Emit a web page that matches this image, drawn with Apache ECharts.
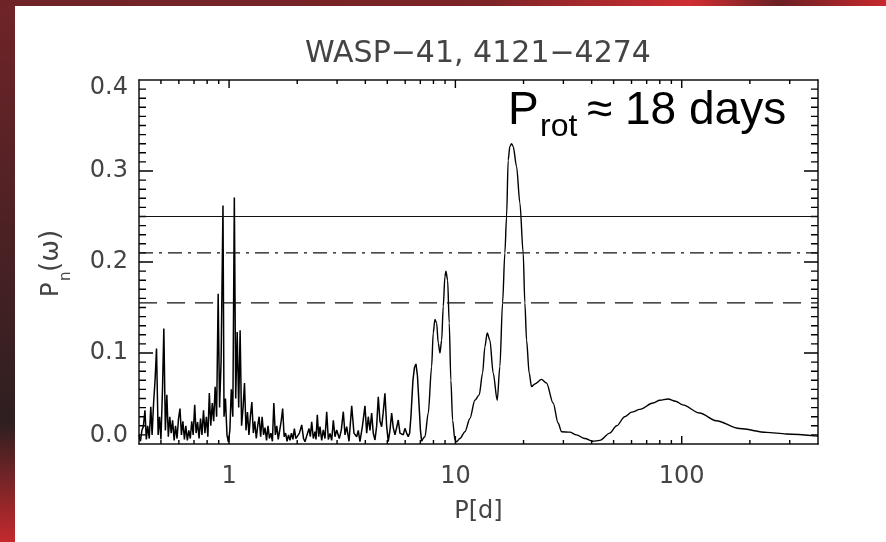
<!DOCTYPE html>
<html>
<head>
<meta charset="utf-8">
<title>WASP-41 periodogram</title>
<script src="https://cdn.jsdelivr.net/npm/echarts@6/dist/echarts.min.js"></script>
<style>
  html, body { margin: 0; padding: 0; }
  #wrap { position: relative; width: 886px; height: 542px; overflow: hidden; background: #5a2224; }
  #left { position: absolute; left: 0; top: 0; width: 15px; height: 542px;
    background: linear-gradient(to bottom, #702428 0%, #4a2124 45%, #2e1f20 78%, #c42a2e 100%); }
  #top { position: absolute; left: 0; top: 0; width: 886px; height: 6px;
    background: linear-gradient(to right, #6e2427 0%, #7c2427 55%, #cf2e32 78%, #6a2024 88%, #c8282c 100%); }
  #panel { position: absolute; left: 15px; top: 6px; right: 0; bottom: 0; background: #fff; }
  #chart { position: absolute; left: 0; top: 0; width: 886px; height: 542px; }
</style>
</head>
<body>
<div id="wrap">
  <div id="left"></div>
  <div id="top"></div>
  <div id="panel"></div>
  <div id="chart"></div>
</div>
<script>
// periodogram, short periods (dense noise)
const noisyPeriods = [
  0.400, 0.406, 0.412, 0.418, 0.425, 0.431, 0.437, 0.444, 0.451, 0.457,
  0.464, 0.471, 0.478, 0.486, 0.493, 0.500, 0.508, 0.515, 0.523, 0.531,
  0.539, 0.547, 0.555, 0.563, 0.572, 0.580, 0.589, 0.598, 0.607, 0.616,
  0.625, 0.635, 0.644, 0.654, 0.664, 0.674, 0.684, 0.694, 0.705, 0.715,
  0.726, 0.737, 0.748, 0.759, 0.771, 0.782, 0.794, 0.806, 0.818, 0.830,
  0.843, 0.855, 0.868, 0.881, 0.895, 0.908, 0.922, 0.940, 0.950, 0.964,
  0.979, 0.993, 1.008, 1.023, 1.039, 1.055, 1.070, 1.086, 1.103, 1.119,
  1.136, 1.153, 1.170, 1.188, 1.206, 1.224, 1.242, 1.261, 1.280, 1.299,
  1.319, 1.338, 1.358, 1.379, 1.400, 1.421, 1.442, 1.464, 1.486, 1.508,
  1.531, 1.554, 1.577, 1.601, 1.625, 1.649, 1.674, 1.699, 1.725, 1.751,
  1.777, 1.804, 1.831, 1.858, 1.886, 1.915, 1.943, 1.973
];
const noisyPower = [
  0.010, 0.003, 0.015, 0.019, 0.037, 0.005, 0.020, 0.006, 0.041, 0.010,
  0.045, 0.070, 0.105, 0.010, 0.030, 0.005, 0.060, 0.127, 0.015, 0.054,
  0.008, 0.030, 0.012, 0.026, 0.004, 0.020, 0.006, 0.028, 0.039, 0.010,
  0.025, 0.005, 0.020, 0.004, 0.015, 0.006, 0.025, 0.010, 0.043, 0.012,
  0.024, 0.006, 0.028, 0.010, 0.037, 0.012, 0.030, 0.008, 0.056, 0.020,
  0.045, 0.025, 0.063, 0.030, 0.165, 0.040, 0.090, 0.262, 0.030, 0.050,
  0.010, 0.002, 0.015, 0.060, 0.030, 0.271, 0.050, 0.123, 0.040, 0.125,
  0.020, 0.040, 0.067, 0.015, 0.035, 0.010, 0.030, 0.046, 0.012, 0.025,
  0.006, 0.020, 0.030, 0.008, 0.030, 0.010, 0.018, 0.004, 0.020, 0.006,
  0.012, 0.003, 0.045, 0.010, 0.020, 0.005, 0.015, 0.025, 0.039, 0.008,
  0.012, 0.003, 0.010, 0.004, 0.012, 0.005, 0.017, 0.006
];

// 2 - 7 days
const midPeriods = [
  2.046, 2.094, 2.133, 2.165, 2.210, 2.256, 2.286, 2.318, 2.356, 2.398,
  2.422, 2.454, 2.489, 2.522, 2.566, 2.608, 2.654, 2.700, 2.745, 2.792,
  2.841, 2.888, 2.938, 2.989, 3.069, 3.132, 3.197, 3.253, 3.309, 3.388,
  3.482, 3.563, 3.662, 3.723, 3.787, 3.885, 3.985, 4.055, 4.121, 4.193,
  4.266, 4.336, 4.412, 4.489, 4.563, 4.642, 4.722, 4.799, 4.883, 4.968,
  5.050, 5.138, 5.228, 5.314, 5.406, 5.500, 5.591, 5.689, 5.788, 5.883,
  5.984, 6.089, 6.188, 6.278, 6.361, 6.492, 6.592, 6.694, 6.797, 6.902,
  7.008, 7.094
];
const midPower = [
  0.012, 0.021, 0.006, 0.0025, 0.010, 0.017, 0.008, 0.0245, 0.006, 0.0136,
  0.005, 0.032, 0.008, 0.019, 0.004, 0.0154, 0.006, 0.0355, 0.005, 0.0117,
  0.004, 0.026, 0.008, 0.0154, 0.006, 0.015, 0.0355, 0.010, 0.019, 0.003,
  0.042, 0.012, 0.008, 0.015, 0.0025, 0.020, 0.042, 0.012, 0.030, 0.015,
  0.034, 0.012, 0.0044, 0.020, 0.052, 0.025, 0.019, 0.035, 0.0557, 0.020,
  0.0025, 0.015, 0.034, 0.018, 0.010, 0.018, 0.0264, 0.012, 0.0136, 0.010,
  0.0172, 0.012, 0.008, 0.012, 0.030, 0.070, 0.084, 0.088, 0.075, 0.045,
  0.015, 0.003
];

// long periods, smooth part
const longPeriods = [
  7.334, 7.586, 7.852, 7.98, 8.12, 8.26, 8.40, 8.545, 8.694, 8.836,
  8.990, 9.08, 9.24, 9.39, 9.55, 9.72, 9.95, 10.12, 10.47, 11.02,
  11.59, 12.19, 12.74, 13.19, 13.50, 13.82, 14.20, 14.69, 15.30, 15.72,
  16.16, 16.54, 16.83, 17.11, 17.40, 17.71, 18.00, 18.63, 19.27, 19.93,
  20.27, 20.63, 21.18, 21.70, 22.44, 24.02, 25.27, 27.03, 28.44, 29.44,
  32.03, 34.29, 37.30, 40.46, 43.45, 48.1, 51.6, 56.0, 60.1, 65.3,
  74.7, 80.0, 87.0, 94.0, 101, 120, 142, 180, 237, 290, 400
];
const longPower = [
  0.008, 0.034, 0.085, 0.122, 0.137, 0.133, 0.111, 0.100, 0.114, 0.151,
  0.184, 0.190, 0.180, 0.133, 0.070, 0.026, 0.0044, 0.0025, 0.006, 0.0135,
  0.028, 0.048, 0.054, 0.078, 0.107, 0.122, 0.114, 0.078, 0.048, 0.085,
  0.155, 0.210, 0.250, 0.312, 0.327, 0.330, 0.327, 0.305, 0.265, 0.210,
  0.155, 0.114, 0.078, 0.063, 0.066, 0.071, 0.067, 0.045, 0.023, 0.0135,
  0.013, 0.010, 0.006, 0.003, 0.004, 0.012, 0.020, 0.030, 0.035, 0.038,
  0.045, 0.048, 0.0495, 0.047, 0.043, 0.034, 0.0256, 0.017, 0.0128, 0.011, 0.0087
];

// false alarm levels
const thresholds = [0.25, 0.21, 0.155];
const thresholdDash = ['solid', [14, 6, 3, 6], [18, 10]];

// tick positions
const xMajorTicks = [1, 10, 100];
const xMinorTicks = [0.5, 0.6, 0.7, 0.8, 0.9, 2, 3, 4, 5, 6, 7, 8, 9,
  20, 30, 40, 50, 60, 70, 80, 90, 200, 300];
const yMajorTicks = [0.1, 0.2, 0.3];
const yMinorTicks = [];
for (let k = 1; k < 40; k++) if (k % 10) yMinorTicks.push(k / 100);

const X_MIN = 0.4, X_MAX = 400, Y_MIN = 0, Y_MAX = 0.4;
const GRID = { left: 139, right: 68, top: 80, bottom: 98 };
const plotW = 886 - GRID.left - GRID.right;
const plotH = 542 - GRID.top - GRID.bottom;
const pxPerDecade = plotW / Math.log10(X_MAX / X_MIN);
const yPerPx = (Y_MAX - Y_MIN) / plotH;

const font = 'DejaVu Sans';
const ink = '#000';
const labelGray = '#444';

const pairs = (xs, ys) => xs.map((x, i) => [x, ys[i]]);
const noisyData = pairs(noisyPeriods, noisyPower).concat(pairs(midPeriods, midPower));
const longData = [noisyData[noisyData.length - 1].slice()].concat(pairs(longPeriods, longPower));

// tick marks as short segments on all four sides of the frame (gaps break the polyline)
const GAP = ['-', '-'];
function xTickSegs(ticks, lenPx) {
  const dy = lenPx * yPerPx;
  const out = [];
  ticks.forEach(p => {
    out.push([p, Y_MIN], [p, Y_MIN + dy], GAP);
    out.push([p, Y_MAX], [p, Y_MAX - dy], GAP);
  });
  return out;
}
function yTickSegs(ticks, lenPx) {
  const f = Math.pow(10, lenPx / pxPerDecade);
  const out = [];
  ticks.forEach(v => {
    out.push([X_MIN, v], [X_MIN * f, v], GAP);
    out.push([X_MAX, v], [X_MAX / f, v], GAP);
  });
  return out;
}
const tickData = [].concat(
  xTickSegs(xMajorTicks, 8), xTickSegs(xMinorTicks, 4),
  yTickSegs(yMajorTicks, 14), yTickSegs(yMinorTicks, 7)
);

function decadeLabel(v) {
  const e = Math.log10(v);
  return Math.abs(e - Math.round(e)) < 1e-6 && v >= 1 ? String(Math.round(v)) : '';
}

function xAxisCfg(position) {
  return {
    type: 'log', logBase: 10, min: X_MIN, max: X_MAX, position: position,
    axisLine: { show: true, onZero: false, lineStyle: { color: '#111', width: 1.5 } },
    axisTick: { show: false },
    axisLabel: position === 'bottom'
      ? { formatter: decadeLabel, fontFamily: font, fontSize: 24, color: labelGray, margin: 21, lineHeight: 24,
          showMinLabel: false, showMaxLabel: false }
      : { show: false },
    splitLine: { show: false },
    name: position === 'bottom' ? 'P[d]' : '',
    nameLocation: 'middle', nameGap: 56,
    nameTextStyle: { fontFamily: font, fontSize: 24, color: labelGray, lineHeight: 24 }
  };
}

function yAxisCfg(position) {
  return {
    type: 'value', min: Y_MIN, max: Y_MAX, interval: 0.1, position: position,
    axisLine: { show: true, onZero: false, lineStyle: { color: '#111', width: 1.5 } },
    axisTick: { show: false },
    axisLabel: position === 'left'
      ? { formatter: v => v.toFixed(1), fontFamily: font, fontSize: 24, color: labelGray, margin: 11,
          lineHeight: 16, verticalAlignMinLabel: 'bottom', verticalAlignMaxLabel: 'top' }
      : { show: false },
    splitLine: { show: false }
  };
}

const chart = echarts.init(document.getElementById('chart'), null, { renderer: 'canvas' });

chart.setOption({
  animation: false,
  backgroundColor: 'transparent',
  grid: { left: GRID.left, right: GRID.right, top: GRID.top, bottom: GRID.bottom, outerBoundsMode: 'none' },
  xAxis: [xAxisCfg('bottom'), xAxisCfg('top')],
  yAxis: [yAxisCfg('left'), yAxisCfg('right')],
  graphic: [
    {
      type: 'text', x: 478, y: 54,
      style: { text: 'WASP\u221241, 4121\u22124274', font: '30px "DejaVu Sans"', fill: labelGray,
        align: 'center', verticalAlign: 'middle' }
    },
    {
      type: 'group', x: 60, y: 297, rotation: Math.PI / 2,
      children: [
        { type: 'text', x: 0, y: -8.5,
          style: { text: 'P', font: '24px "DejaVu Sans"', fill: labelGray, align: 'left', verticalAlign: 'middle' } },
        { type: 'text', x: 16, y: 6,
          style: { text: 'n', font: '15px "DejaVu Sans"', fill: labelGray, align: 'left', verticalAlign: 'middle' } },
        { type: 'text', x: 25, y: -8.5,
          style: { text: '(\u03c9)', font: '26px "DejaVu Sans"', fill: labelGray, align: 'left', verticalAlign: 'middle' } }
      ]
    },
    { type: 'text', x: 508, y: 111,
      style: { text: 'P', font: '46px "Liberation Sans"', fill: '#000', align: 'left', verticalAlign: 'middle' } },
    { type: 'text', x: 540, y: 127,
      style: { text: 'rot', font: '32px "Liberation Sans"', fill: '#000', align: 'left', verticalAlign: 'middle' } },
    { type: 'text', x: 587, y: 111,
      style: { text: '\u2248 18 days', font: '46px "Liberation Sans"', fill: '#000', align: 'left', verticalAlign: 'middle' } }
  ],
  series: [
    {
      name: 'ticks', type: 'line', data: tickData, showSymbol: false, symbol: 'none',
      connectNulls: false, clip: false, silent: true,
      lineStyle: { color: ink, width: 1.4 }
    },
    {
      type: 'line', data: noisyData, showSymbol: false, symbol: 'none',
      lineStyle: { color: '#000', width: 1.5 }, silent: true
    },
    {
      type: 'line', data: longData, showSymbol: false, symbol: 'none',
      smooth: 0.3, smoothMonotone: 'x',
      lineStyle: { color: '#000', width: 1.4 }, silent: true
    },
    ...thresholds.map((t, i) => ({
      type: 'line', data: [[X_MIN, t], [X_MAX, t]], showSymbol: false, symbol: 'none',
      lineStyle: { color: '#111', width: 1.2, type: thresholdDash[i] }, silent: true
    }))
  ]
});
</script>
</body>
</html>
